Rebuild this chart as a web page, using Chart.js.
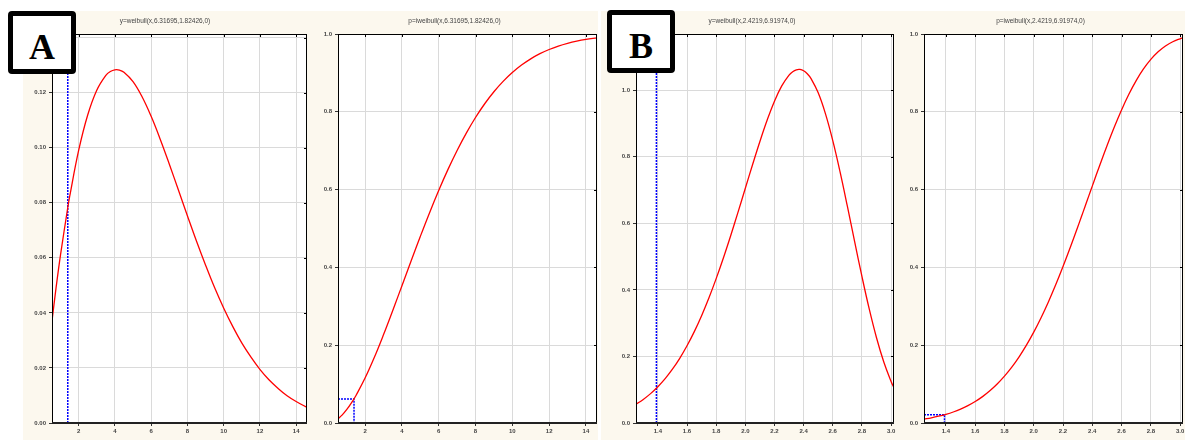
<!DOCTYPE html>
<html>
<head>
<meta charset="utf-8">
<script src="https://cdn.jsdelivr.net/npm/chart.js@4.4.1/dist/chart.umd.min.js"></script>
<style>
  body { margin: 0; width: 1185px; height: 440px; overflow: hidden; background: #fff; position: relative; }
  .panel { position: absolute; top: 11px; height: 429px; background: #fcf8ee; }
  canvas { position: absolute; top: 11px; }
  .tag {
    position: absolute; width: 58px; height: 53px; border: 5px solid #000; border-radius: 4px;
    background: #fff; font: bold 36px "Liberation Serif", "DejaVu Serif", serif;
    text-align: center; line-height: 63px; z-index: 5;
  }
</style>
</head>
<body>
<div class="panel" style="left:23px;width:575px"></div>
<div class="panel" style="left:601px;width:584px"></div>
<canvas id="a1" width="298" height="429" style="left:23px"></canvas>
<canvas id="a2" width="300" height="429" style="left:312px"></canvas>
<canvas id="b1" width="299" height="429" style="left:610px"></canvas>
<canvas id="b2" width="301" height="429" style="left:898px"></canvas>
<div class="tag" style="left:8px;top:11px">A</div>
<div class="tag" style="left:607px;top:10px">B</div>
<script>
// set A: weibull scale 6.31695, shape 1.82426
const aX = [0.53, 0.75, 1, 1.4, 1.5, 2, 2.5, 3, 3.5, 3.75, 4, 4.25, 4.5, 5, 5.5, 6, 6.5, 7, 7.5, 8, 8.5, 9, 9.5, 10, 10.5, 11, 11.5, 12, 12.5, 13, 13.5, 14, 14.6];
const aPdf = [0.0371, 0.0489, 0.0611, 0.0782, 0.0821, 0.0990, 0.1119, 0.1209, 0.1263, 0.1277, 0.1283, 0.1282, 0.1274, 0.1240, 0.1185, 0.1114, 0.1031, 0.0941, 0.0847, 0.0753, 0.0661, 0.0574, 0.0492, 0.0418, 0.0351, 0.0291, 0.0240, 0.0195, 0.0157, 0.0126, 0.0099, 0.0078, 0.0057];
const aCdf = [0.0108, 0.0203, 0.0341, 0.0620, 0.0700, 0.1155, 0.1683, 0.2267, 0.2886, 0.3204, 0.3524, 0.3845, 0.4165, 0.4794, 0.5401, 0.5976, 0.6513, 0.7006, 0.7453, 0.7853, 0.8207, 0.8515, 0.8782, 0.9009, 0.9201, 0.9361, 0.9494, 0.9602, 0.9690, 0.9760, 0.9816, 0.9860, 0.9901];
const aMark = [1.4, 0.062];   // x, p

// set B: weibull scale 2.4219, shape 6.91974
const bX = [1.25, 1.3, 1.35, 1.4, 1.45, 1.5, 1.55, 1.6, 1.65, 1.7, 1.75, 1.8, 1.85, 1.9, 1.95, 2.0, 2.05, 2.1, 2.15, 2.2, 2.25, 2.3, 2.325, 2.35, 2.375, 2.4, 2.425, 2.45, 2.5, 2.55, 2.6, 2.65, 2.7, 2.75, 2.8, 2.85, 2.9, 2.95, 3.0, 3.02];
const bPdf = [0.0564, 0.0709, 0.0883, 0.1089, 0.1332, 0.1616, 0.1944, 0.2320, 0.2746, 0.3225, 0.3756, 0.4338, 0.4967, 0.5636, 0.6336, 0.7053, 0.7768, 0.8461, 0.9105, 0.9672, 1.0133, 1.0456, 1.0557, 1.0615, 1.0625, 1.0586, 1.0497, 1.0356, 0.9921, 0.9290, 0.8487, 0.7546, 0.6516, 0.5450, 0.4404, 0.3427, 0.2561, 0.1831, 0.1248, 0.1055];
const bCdf = [0.0102, 0.0134, 0.0174, 0.0223, 0.0283, 0.0357, 0.0446, 0.0552, 0.0678, 0.0828, 0.1002, 0.1204, 0.1436, 0.1701, 0.2001, 0.2335, 0.2706, 0.3112, 0.3551, 0.4021, 0.4516, 0.5032, 0.5295, 0.5559, 0.5825, 0.6090, 0.6354, 0.6615, 0.7122, 0.7603, 0.8048, 0.8450, 0.8802, 0.9101, 0.9347, 0.9542, 0.9692, 0.9801, 0.9877, 0.9900];
const bMark = [1.39, 0.021];

const titles = [
  'y=weibull(x,6.31695,1.82426,0)',
  'p=iweibull(x,6.31695,1.82426,0)',
  'y=weibull(x,2.4219,6.91974,0)',
  'p=iweibull(x,2.4219,6.91974,0)',
];

const frame = {
  id: 'frame',
  beforeDraw(chart) {
    const { ctx, chartArea: a } = chart;
    ctx.save();
    ctx.fillStyle = '#fff';
    ctx.fillRect(a.left, a.top, a.right - a.left, a.bottom - a.top);
    ctx.restore();
  },
  afterDraw(chart) {
    const { ctx, chartArea: a, scales } = chart;
    ctx.save();
    ctx.strokeStyle = '#000';
    ctx.lineWidth = 1;
    ctx.strokeRect(a.left + 0.5, a.top + 0.5, a.right - a.left - 1, a.bottom - a.top);
    ctx.beginPath();
    scales.y.ticks.forEach(t => {
      const py = Math.round(scales.y.getPixelForValue(t.value)) + 0.5;
      ctx.moveTo(a.right - 3, py); ctx.lineTo(a.right, py);
    });
    scales.x.ticks.forEach(t => {
      const px = Math.round(scales.x.getPixelForValue(t.value)) + 0.5;
      ctx.moveTo(px, a.top); ctx.lineTo(px, a.top + 3);
    });
    ctx.stroke();
    ctx.lineWidth = 2;
    ctx.strokeStyle = '#222';
    ctx.beginPath();
    ctx.moveTo(a.left, a.bottom); ctx.lineTo(a.right, a.bottom);
    ctx.stroke();
    ctx.restore();
  }
};

const tickFont = { family: '"Liberation Sans", Arial, sans-serif', size: 6, weight: 'bold' };

function makeChart(id, title, xs, ys, mark, xMin, xMax, xStep, xDec, yMax, yStep, yDec, yWidth, padRight) {
  const curve = xs.map((x, i) => ({ x: x, y: ys[i] }));
  new Chart(document.getElementById(id), {
    type: 'line',
    data: {
      datasets: [
        {
          data: curve,
          borderColor: '#ff0000',
          borderWidth: 1.3,
          pointRadius: 0,
          tension: 0.4,
        },
        {
          data: mark,
          borderColor: '#0000ff',
          borderWidth: 1.5,
          borderDash: [2, 1],
          pointRadius: 0,
          tension: 0,
        },
      ],
    },
    options: {
      responsive: false,
      animation: false,
      events: [],
      layout: { padding: { right: padRight } },
      plugins: {
        legend: { display: false },
        tooltip: { enabled: false },
        title: {
          display: true,
          text: title,
          color: '#444',
          font: { family: '"Liberation Sans", Arial, sans-serif', size: 6.5, weight: 'normal' },
          padding: { top: 6.5, bottom: 8.7 },
        },
      },
      scales: {
        x: {
          type: 'linear',
          min: xMin,
          max: xMax,
          afterFit: s => { s.height = 17; },
          grid: { color: '#dadada', tickColor: '#333', tickLength: 3 },
          border: { display: false },
          ticks: {
            stepSize: xStep,
            includeBounds: false,
            autoSkip: false,
            maxRotation: 0,
            padding: 2,
            color: '#444',
            font: tickFont,
            callback: v => v.toFixed(xDec),
          },
        },
        y: {
          min: 0,
          max: yMax,
          afterFit: s => { s.width = yWidth; },
          grid: { color: '#dadada', tickColor: '#333', tickLength: 3 },
          border: { display: false },
          ticks: {
            stepSize: yStep,
            includeBounds: false,
            padding: 3,
            color: '#444',
            font: tickFont,
            callback: v => v.toFixed(yDec),
          },
        },
      },
    },
    plugins: [frame],
  });
}

const aYMax = 0.1413;
const bYMax = 1.169;

makeChart('a1', titles[0], aX, aPdf,
  [{ x: aMark[0], y: 0 }, { x: aMark[0], y: aYMax }],
  0.53, 14.6, 2, 0, aYMax, 0.02, 2, 29, 14);
makeChart('a2', titles[1], aX, aCdf,
  [{ x: 0.53, y: aMark[1] }, { x: aMark[0], y: aMark[1] }, { x: aMark[0], y: 0 }],
  0.53, 14.6, 2, 0, 1.0, 0.2, 1, 26, 15);
makeChart('b1', titles[2], bX, bPdf,
  [{ x: bMark[0], y: 0 }, { x: bMark[0], y: bYMax }],
  1.25, 3.02, 0.2, 1, bYMax, 0.2, 1, 26, 15);
makeChart('b2', titles[3], bX, bCdf,
  [{ x: 1.25, y: bMark[1] }, { x: bMark[0], y: bMark[1] }, { x: bMark[0], y: 0 }],
  1.25, 3.02, 0.2, 1, 1.0, 0.2, 1, 26, 16);
</script>
</body>
</html>
